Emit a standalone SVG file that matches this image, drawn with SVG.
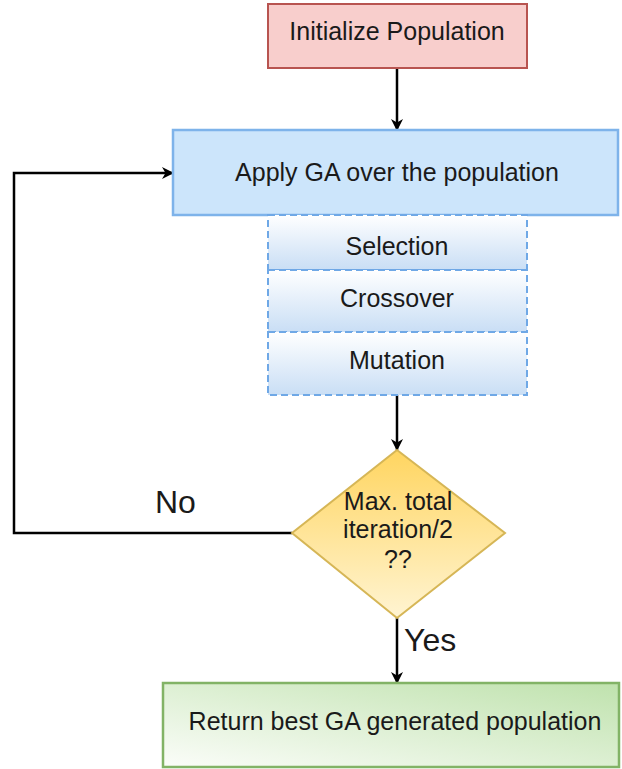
<svg xmlns="http://www.w3.org/2000/svg" width="622" height="769" viewBox="0 0 622 769">
  <style>
    text { font-family: "Liberation Sans", Arial, sans-serif; fill: #1a1a1a; text-anchor: middle; }
    .lbl { font-size: 25px; }
    .big { font-size: 32px; text-anchor: start; }
    .edge { fill: none; stroke: #000; stroke-width: 2.5; }
    .sub { fill: url(#subFill); stroke: #6fa8e6; stroke-width: 2; stroke-dasharray: 7 4; }
  </style>
  <defs>
    <marker id="arrow" viewBox="0 0 12 12" refX="11" refY="6" markerWidth="12" markerHeight="12" markerUnits="userSpaceOnUse" orient="auto">
      <path d="M0,0 L12,6 L0,12 L3.5,6 Z" fill="#000"/>
    </marker>
    <linearGradient id="subFill" x1="0" y1="0" x2="0" y2="1">
      <stop offset="0" stop-color="#ffffff"/>
      <stop offset="1" stop-color="#c9def5"/>
    </linearGradient>
    <linearGradient id="diamondFill" x1="0" y1="0" x2="0" y2="1">
      <stop offset="0" stop-color="#ffd560"/>
      <stop offset="1" stop-color="#fff4d2"/>
    </linearGradient>
    <linearGradient id="greenFill" x1="0" y1="1" x2="1" y2="0">
      <stop offset="0" stop-color="#fbfdf9"/>
      <stop offset="1" stop-color="#bfe2ad"/>
    </linearGradient>
  </defs>

  <!-- connectors -->
  <g id="connectors">
    <path class="edge" d="M397,68 V130" marker-end="url(#arrow)"/>
    <path class="edge" d="M397,395 V450" marker-end="url(#arrow)"/>
    <path class="edge" d="M292,533 H14 V173 H173" marker-end="url(#arrow)"/>
    <path class="edge" d="M397,618 V683" marker-end="url(#arrow)"/>
    <text class="big" x="155" y="513">No</text>
    <text class="big" x="404" y="651">Yes</text>
  </g>

  <g id="init">
    <rect x="268" y="4" width="259" height="64" fill="#f8cecc" stroke="#b85450" stroke-width="2"/>
    <text class="lbl" x="397" y="40">Initialize Population</text>
  </g>

  <g id="apply">
    <rect x="173" y="130" width="445" height="85" fill="#cce5fb" stroke="#7eb3ea" stroke-width="2.5"/>
    <text class="lbl" x="397" y="181">Apply GA over the population</text>
  </g>

  <g id="selection">
    <rect class="sub" x="268" y="215" width="259" height="55"/>
    <text class="lbl" x="397" y="255">Selection</text>
  </g>
  <g id="crossover">
    <rect class="sub" x="268" y="270" width="259" height="62"/>
    <text class="lbl" x="397" y="307">Crossover</text>
  </g>
  <g id="mutation">
    <rect class="sub" x="268" y="332" width="259" height="63"/>
    <text class="lbl" x="397" y="369">Mutation</text>
  </g>

  <g id="decision">
    <polygon points="397,450 505,533 397,618 292,533" fill="url(#diamondFill)" stroke="#d6b656" stroke-width="2"/>
    <text class="lbl" x="398" y="510">Max. total</text>
    <text class="lbl" x="398" y="538">iteration/2</text>
    <text class="lbl" x="398" y="568">??</text>
  </g>

  <g id="result">
    <rect x="163" y="683" width="456" height="84" fill="url(#greenFill)" stroke="#82b366" stroke-width="2.5"/>
    <text class="lbl" x="395" y="730">Return best GA generated population</text>
  </g>
</svg>
